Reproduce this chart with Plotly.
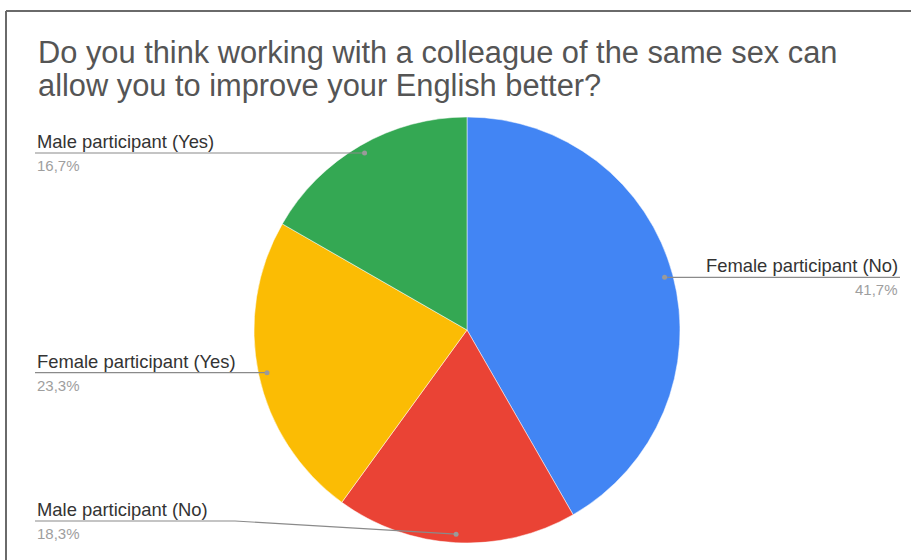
import math
import plotly.graph_objects as go

# ---- data ----
categories = ["Female participant (No)", "Male participant (No)",
              "Female participant (Yes)", "Male participant (Yes)"]
values = [41.7, 18.3, 23.3, 16.7]
colors = ["#4285F4", "#EA4335", "#FBBC04", "#34A853"]
title_lines = ["Do you think working with a colleague of the same sex can",
               "allow you to improve your English better?"]

# ---- layout constants (pixels) ----
W, H = 911, 560
CX, CY, R = 467, 330, 213
DOT_FRAC = 0.96
LEFT_X, RIGHT_X = 35, 900
LABEL_Y_MAX = 521
LABEL_FS, PCT_FS, TITLE_FS = 18.4, 15, 30.8
TITLE_BASELINES = [65, 98]

fig = go.Figure()
fig.add_trace(go.Pie(
    labels=categories, values=values, sort=False, direction="clockwise",
    rotation=0, marker=dict(colors=colors, line=dict(color="white", width=0.5)),
    textinfo="none", hoverinfo="label+percent", showlegend=False,
    domain=dict(x=[(CX - R) / W, (CX + R) / W], y=[1 - (CY + R) / H, 1 - (CY - R) / H]),
))

total = sum(values)
cum = 0.0
annotations = []
shapes = []
for cat, v in zip(categories, values):
    mid = (cum + v / 2) / total * 2 * math.pi
    cum += v
    px = CX + DOT_FRAC * R * math.sin(mid)
    py = CY - DOT_FRAC * R * math.cos(mid)
    liney = min(py, LABEL_Y_MAX)
    pct = f"{v:.1f}".replace(".", ",") + "%"
    if px >= CX:
        path = f"M {px},{py} L {RIGHT_X},{liney}"
        xa, xpos = "right", RIGHT_X
    else:
        path = f"M {LEFT_X},{liney} L {LEFT_X + 200},{liney} L {px},{py}"
        xa, xpos = "left", LEFT_X
    shapes.append(dict(type="path", xref="x", yref="y", path=path,
                       line=dict(color="#8a8a8a", width=1.2)))
    shapes.append(dict(type="circle", xref="x", yref="y", x0=px - 2.5, x1=px + 2.5,
                       y0=py - 2.5, y1=py + 2.5, fillcolor="#9a9a9a",
                       line=dict(width=0)))
    annotations.append(dict(x=xpos, y=liney + 1, xref="x", yref="y", text=cat,
                            showarrow=False, xanchor=xa, yanchor="bottom",
                            font=dict(size=LABEL_FS, color="#333333", family="Liberation Sans")))
    annotations.append(dict(x=xpos, y=liney + 2, xref="x", yref="y", text=pct,
                            showarrow=False, xanchor=xa, yanchor="top",
                            font=dict(size=PCT_FS, color="#9E9E9E", family="Liberation Sans")))

for line, base in zip(title_lines, TITLE_BASELINES):
    annotations.append(dict(x=36, y=base + 7, xref="x", yref="y", text=line,
                            showarrow=False, xanchor="left", yanchor="bottom", align="left",
                            font=dict(size=TITLE_FS, color="#555555", family="Liberation Sans")))

shapes += [
    dict(type="line", xref="x", yref="y", x0=6, y0=11, x1=W, y1=11,
         line=dict(color="#6a6a6a", width=2)),
    dict(type="line", xref="x", yref="y", x0=6, y0=11, x1=6, y1=H,
         line=dict(color="#6a6a6a", width=2)),
]

fig.update_layout(
    width=W, height=H, margin=dict(l=0, r=0, t=0, b=0),
    paper_bgcolor="white", plot_bgcolor="rgba(0,0,0,0)",
    xaxis=dict(range=[0, W], visible=False, fixedrange=True),
    yaxis=dict(range=[H, 0], visible=False, fixedrange=True),
    annotations=annotations,
    shapes=shapes,
)
fig.write_html("out.html")
